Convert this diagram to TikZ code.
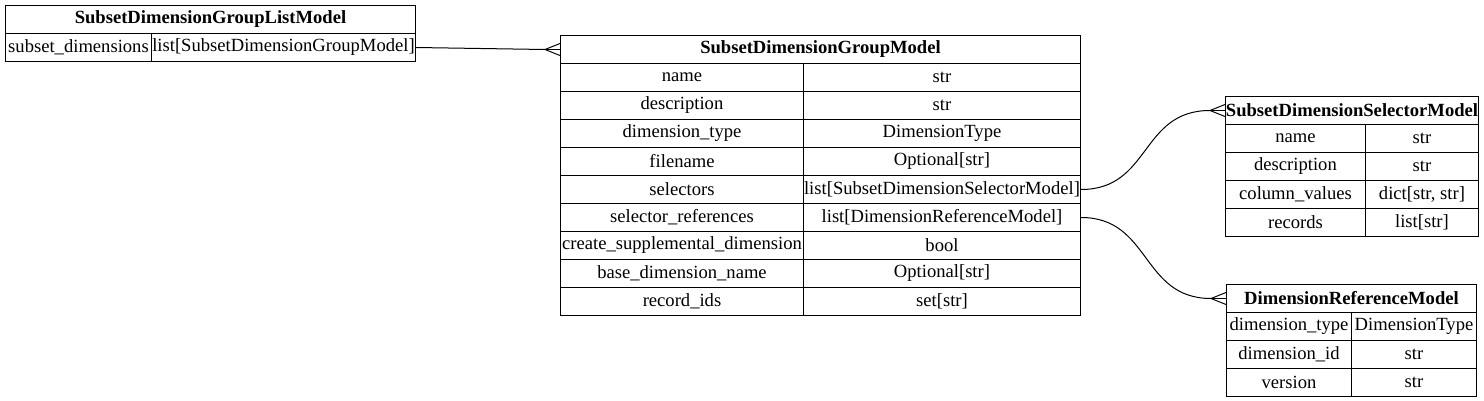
\documentclass[tikz,border=0pt]{standalone}
\usepackage{fontspec}
\setmainfont{Liberation Serif}
\usetikzlibrary{calc}
\tikzset{
  cell/.style={draw, line width=1pt, inner sep=0pt, minimum height=28pt, anchor=north west, font=\fontsize{18.6}{20}\selectfont},
  hcell/.style={cell, font=\fontsize{18.6}{20}\selectfont\bfseries},
  edge/.style={draw, line width=1pt},
}
\newcommand{\hdr}[5]{% name, x1, x2, y, text
  \node[hcell, minimum width={(#3-#2)*1pt}] (#1) at (#2,-#4) {#5};}
\newcommand{\cpair}[7]{% name, x1, xs, x2, y, left, right
  \node[cell, minimum width={(#3-#2)*1pt}] (#1l) at (#2,-#5) {#6};
  \node[cell, minimum width={(#4-#3)*1pt}] (#1r) at (#3,-#5) {#7};}
\newcommand{\crow}[1]{% coordinate at box edge
  \draw[line width=1pt] ($(#1)+(-15,0)$) -- ($(#1)+(0,6)$);
  \draw[line width=1pt] ($(#1)+(-15,0)$) -- ($(#1)+(0,-6)$);
  \draw[line width=1pt] ($(#1)+(-15,0)$) -- (#1);}
\begin{document}
\begin{tikzpicture}[x=1pt,y=1pt]
\useasboundingbox (0,0) rectangle (1484,-401);
% Table 1
\hdr{ta}{5}{415}{5}{SubsetDimensionGroupListModel}
\cpair{ta1}{5}{151}{415}{33}{subset\_dimensions}{list[SubsetDimensionGroupModel]}
% Table 2
\hdr{tb}{560}{1080}{35}{SubsetDimensionGroupModel}
\cpair{tb1}{560}{803}{1080}{63}{name}{str}
\cpair{tb2}{560}{803}{1080}{91}{description}{str}
\cpair{tb3}{560}{803}{1080}{119}{dimension\_type}{DimensionType}
\cpair{tb4}{560}{803}{1080}{147}{filename}{Optional[str]}
\cpair{tb5}{560}{803}{1080}{175}{selectors}{list[SubsetDimensionSelectorModel]}
\cpair{tb6}{560}{803}{1080}{203}{selector\_references}{list[DimensionReferenceModel]}
\cpair{tb7}{560}{803}{1080}{231}{create\_supplemental\_dimension}{bool}
\cpair{tb8}{560}{803}{1080}{259}{base\_dimension\_name}{Optional[str]}
\cpair{tb9}{560}{803}{1080}{287}{record\_ids}{set[str]}
% Table 3
\hdr{tc}{1225}{1478}{96}{SubsetDimensionSelectorModel}
\cpair{tc1}{1225}{1365}{1478}{124}{name}{str}
\cpair{tc2}{1225}{1365}{1478}{152}{description}{str}
\cpair{tc3}{1225}{1365}{1478}{180}{column\_values}{dict[str, str]}
\cpair{tc4}{1225}{1365}{1478}{208}{records}{list[str]}
% Table 4
\hdr{td}{1226}{1476}{284}{DimensionReferenceModel}
\cpair{td1}{1226}{1351}{1476}{312}{dimension\_type}{DimensionType}
\cpair{td2}{1226}{1351}{1476}{340}{dimension\_id}{str}
\cpair{td3}{1226}{1351}{1476}{368}{version}{str}
% edges
\coordinate (eb) at (tb.west);
\draw[edge] (ta1r.east) -- ($(eb)+(-15,0)$);
\crow{eb}
\coordinate (ec) at (tc.west);
\draw[edge] (tb5r.east) .. controls +(70,0) and +(-70,0) .. ($(ec)+(-15,0)$);
\crow{ec}
\coordinate (ed) at (td.west);
\draw[edge] (tb6r.east) .. controls +(70,0) and +(-70,0) .. ($(ed)+(-15,0)$);
\crow{ed}
\end{tikzpicture}
\end{document}
